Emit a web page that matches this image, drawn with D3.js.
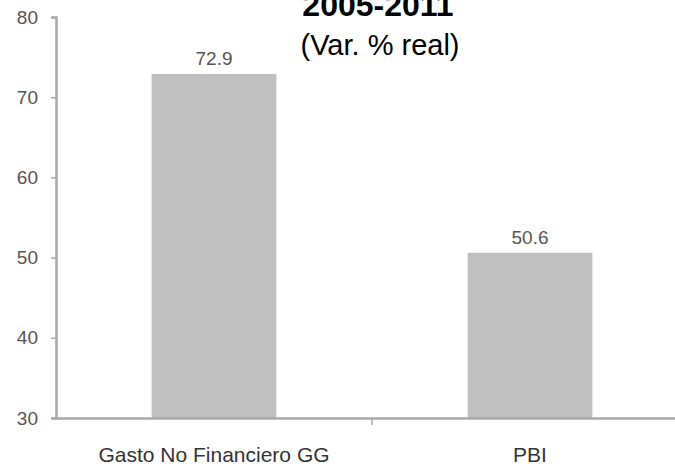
<!DOCTYPE html>
<html><head><meta charset="utf-8">
<script src="https://cdn.jsdelivr.net/npm/d3@7"></script>
<style>body{margin:0;background:#fff}svg{display:block}text{font-family:"Liberation Sans",Arial,sans-serif}</style>
</head><body><svg id="c" width="675" height="467"></svg>
<script>
const categories = ["Gasto No Financiero GG", "PBI"];
const values = [72.9, 50.6];
const valueLabels = ["72.9", "50.6"];
const yTicks = [30, 40, 50, 60, 70, 80];
const titleLines = ["2005-2011", "(Var. % real)"];

(function () {
const svg = d3.select("#c");
const mLeft = 56, mRight = 688, mTop = 17, mBottom = 418;
const x = d3.scaleBand().domain(categories).range([mLeft, mRight]);
const y = d3.scaleLinear().domain([30, 80]).range([mBottom, mTop]);
const barW = x.bandwidth() * 0.395;
const axisColor = "#a8a8a8";

svg.selectAll("rect.bar").data(values).join("rect")
  .attr("x", (d, i) => x(categories[i]) + (x.bandwidth() - barW) / 2)
  .attr("width", barW)
  .attr("y", d => y(d))
  .attr("height", d => y(30) - y(d))
  .attr("fill", "#c0c0c0");

svg.selectAll("text.val").data(values).join("text")
  .attr("x", (d, i) => x(categories[i]) + x.bandwidth() / 2)
  .attr("y", d => y(d) - 9)
  .attr("text-anchor", "middle")
  .attr("font-size", 19).attr("fill", "#555")
  .text((d, i) => valueLabels[i]);

const ya = svg.append("g").attr("transform", `translate(${mLeft},0)`)
  .call(d3.axisLeft(y).tickValues(yTicks).tickSize(5).tickPadding(13).tickFormat(d3.format("d")));
ya.select(".domain").attr("stroke", axisColor).attr("stroke-width", 2.5);
ya.selectAll(".tick line").attr("stroke", axisColor).attr("stroke-width", 1.5);
ya.selectAll(".tick text").attr("font-size", 19).attr("fill", "#555").attr("font-family", "Liberation Sans, Arial");

const xa = svg.append("g").attr("transform", `translate(0,${mBottom})`)
  .call(d3.axisBottom(x).tickSize(0).tickPadding(29));
xa.select(".domain").attr("stroke", axisColor).attr("stroke-width", 2.5);
xa.selectAll(".tick text").attr("font-size", 21).attr("fill", "#333").attr("font-family", "Liberation Sans, Arial");
svg.append("g").selectAll("line").data(categories.slice(1)).join("line")
  .attr("x1", d => x(d)).attr("x2", d => x(d))
  .attr("y1", mBottom).attr("y2", mBottom + 7)
  .attr("stroke", axisColor).attr("stroke-width", 1.5);

svg.append("text").attr("x", 378).attr("y", 16).attr("text-anchor", "middle")
  .attr("font-size", 32).attr("font-weight", "bold").attr("fill", "#000").text(titleLines[0]);
svg.append("text").attr("x", 380).attr("y", 55).attr("text-anchor", "middle")
  .attr("font-size", 29).attr("fill", "#000").text(titleLines[1]);
})();
</script></body></html>
